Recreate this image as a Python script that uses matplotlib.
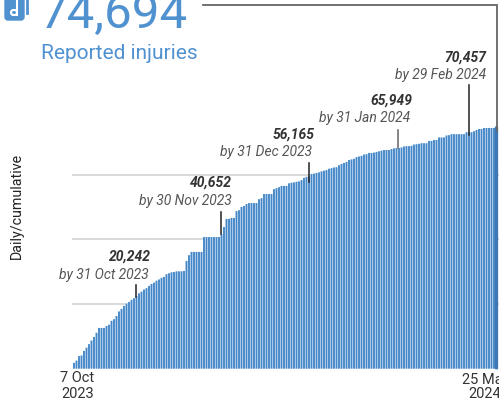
import matplotlib
matplotlib.use('Agg')
import matplotlib.pyplot as plt
from matplotlib.patches import FancyBboxPatch

plt.rcParams['font.family'] = ['Roboto', 'DejaVu Sans']

# cumulative injuries, one bar per report
cumulative = [
    1800, 2500, 3900, 4100, 5500, 6500, 7600, 8700, 9800, 11100,
    12600, 12600, 12600, 13200, 13600, 14800, 15300, 16300, 17700, 18500,
    19400, 20200, 20600, 21300, 21800, 22400, 23300, 23800, 24500, 24900,
    25600, 26200, 26600, 27200, 27600, 28100, 28400, 29200, 29500, 29800,
    29900, 30100, 30100, 30100, 30200, 33300, 35100, 36100, 36100, 36100,
    36100, 36100, 40700, 40700, 40700, 40700, 40700, 40700, 40700, 41600,
    43800, 46300, 46300, 46600, 46600, 48700, 49000, 50000, 50300, 50900,
    51200, 51200, 51200, 51200, 52400, 52700, 54000, 54000, 54000, 54000,
    55500, 55800, 56100, 56500, 56500, 56500, 57300, 57500, 57600, 57800,
    57900, 58300, 59000, 59300, 59500, 60200, 60300, 60500, 60700, 61000,
    61200, 61400, 61800, 62000, 62200, 62300, 62900, 63300, 63600, 63900,
    64500, 64700, 64900, 65400, 65600, 65800, 66200, 66300, 66700, 66700,
    66800, 67000, 67200, 67400, 67600, 67600, 67600, 67900, 68100, 68200,
    68200, 68400, 68700, 68800, 68800, 68900, 69300, 69400, 69500, 69700,
    69700, 69700, 70400, 70400, 70700, 70700, 71500, 71500, 71500, 72100,
    72200, 72500, 72500, 72500, 72500, 72500, 72500, 73100, 73100, 73100,
    73400, 73800, 74100, 74100, 74400, 74400, 74400, 74400, 74400, 74694,
]
grid_values = [20000, 40000, 60000]

total_label = '74,694'
total_title = 'Reported injuries'
y_title = 'Daily/cumulative'

callout_totals = ['20,242', '40,652', '56,165', '65,949', '70,457']
callout_dates = ['by 31 Oct 2023', 'by 30 Nov 2023', 'by 31 Dec 2023',
                 'by 31 Jan 2024', 'by 29 Feb 2024']

W, H = 499, 401
fig = plt.figure(figsize=(W / 100, H / 100), dpi=100)

# data axes fill the figure, scales set so the bars land on the reference pixels
ax = fig.add_axes([0, 0, 1, 1])
px_per_bar = 2.5
px_per_unit = 0.003235
x0, y0 = 74, 368.7
ax.set_xlim(-x0 / px_per_bar, (W - x0) / px_per_bar)
ax.set_ylim(-(H - y0) / px_per_unit, y0 / px_per_unit)
ax.axis('off')

xs = list(range(len(cumulative)))
ax.hlines(grid_values, -0.8, len(cumulative), color='#d0d0d0', lw=1.1, zorder=1)
ax.bar(xs, cumulative, width=1.0, color='white', zorder=2)
bars = ax.bar(xs, cumulative, width=0.76, color='#4387c8', zorder=3)
for b in bars:
    b.set_snap(False)
bars[-1].set_color('#3b78b5')

# overlay in pixel coordinates for the text and leader lines
over = fig.add_axes([0, 0, 1, 1])
over.set_xlim(0, W)
over.set_ylim(H, 0)
over.axis('off')
over.patch.set_alpha(0)

blue = '#5091d0'
over.add_patch(FancyBboxPatch((5, -10), 19, 30, boxstyle='round,pad=0,rounding_size=3',
                              fc=blue, ec=blue, lw=1))
over.add_patch(FancyBboxPatch((11, 10), 6, 5, boxstyle='round,pad=0,rounding_size=2.5',
                              fc='none', ec='white', lw=1.5))
over.plot([17.5, 17.5], [-2, 15], color='white', lw=1.5)
over.plot([27, 27], [-2, 13], color=blue, lw=2)

over.text(39, 27.5, total_label, color=blue, fontsize=35.5, ha='left', va='baseline')
over.text(41, 59, total_title, color=blue, fontsize=15, ha='left', va='baseline')

over.plot([203, 497, 497], [5, 5, 131], color='#666666', lw=1.3, solid_joinstyle='miter', zorder=5)

over.text(17, 206, y_title, rotation=90, color='#222222', fontsize=10.3, ha='center', va='center')

over.text(77.5, 378, '7 Oct', color='#333333', fontsize=10.5, ha='center', va='center')
over.text(77.5, 394, '2023', color='#333333', fontsize=10.5, ha='center', va='center')
over.text(485, 380, '25 Mar', color='#333333', fontsize=10.5, ha='center', va='center')
over.text(485, 394, '2024', color='#333333', fontsize=10.5, ha='center', va='center')

total_right = [151, 232, 315, 412, 486]
date_right = [149, 232, 312, 410, 486]
total_y = [257, 183, 135, 101, 58]
date_y = [275, 201, 152, 118, 75]
line_x = [136.5, 221, 309, 397.7, 469.3]
line_top = [285, 212, 163, 130, 85]
line_bottom = [297, 234, 182, 148, 135]
line_color = ['#222222', '#222222', '#222222', '#666666', '#222222']

for i in range(len(callout_totals)):
    over.text(total_right[i], total_y[i], callout_totals[i], color='#333333', fontsize=10,
              fontweight='bold', fontstyle='italic', ha='right', va='center')
    over.text(date_right[i], date_y[i], callout_dates[i], color='#555555', fontsize=10,
              fontstyle='italic', ha='right', va='center')
    over.plot([line_x[i], line_x[i]], [line_top[i], line_bottom[i]], color=line_color[i],
              lw=1.1, zorder=6)

fig.savefig('out.png', dpi=100)
